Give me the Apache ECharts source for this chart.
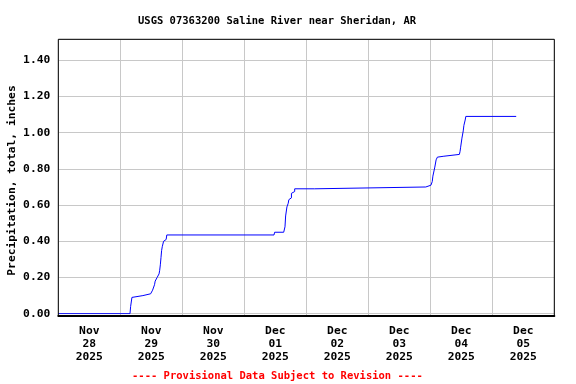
<!DOCTYPE html>
<html>
<head>
<meta charset="utf-8">
<script src="https://cdn.jsdelivr.net/npm/echarts@6/dist/echarts.min.js"></script>
<style>
html,body{margin:0;padding:0;background:#fff;}
#chart{width:576px;height:384px;}
</style>
</head>
<body>
<div id="chart"></div>
<script>
// Cumulative precipitation readings (local time, inches)
const times = [
  '2025-11-28 00:00','2025-11-29 03:45','2025-11-29 04:00','2025-11-29 04:30','2025-11-29 04:45',
  '2025-11-29 08:45','2025-11-29 09:00','2025-11-29 11:45','2025-11-29 12:00','2025-11-29 12:30',
  '2025-11-29 12:45','2025-11-29 13:15','2025-11-29 13:30','2025-11-29 13:45','2025-11-29 14:15',
  '2025-11-29 15:00','2025-11-29 15:15','2025-11-29 15:30','2025-11-29 15:45','2025-11-29 16:00',
  '2025-11-29 16:15','2025-11-29 16:30','2025-11-29 16:45','2025-11-29 17:15','2025-11-29 17:45',
  '2025-11-29 18:00','2025-12-01 11:30','2025-12-01 11:45','2025-12-01 15:15','2025-12-01 15:45',
  '2025-12-01 16:00','2025-12-01 16:30','2025-12-01 17:00','2025-12-01 17:15','2025-12-01 17:45',
  '2025-12-01 18:15','2025-12-01 18:45','2025-12-01 19:30','2025-12-02 03:15','2025-12-02 03:30',
  '2025-12-03 22:15','2025-12-03 22:30','2025-12-04 00:15','2025-12-04 00:45','2025-12-04 01:00',
  '2025-12-04 01:30','2025-12-04 01:45','2025-12-04 02:15','2025-12-04 02:45','2025-12-04 03:30',
  '2025-12-04 05:15','2025-12-04 05:30','2025-12-04 11:15','2025-12-04 11:30','2025-12-04 11:45',
  '2025-12-04 12:15','2025-12-04 12:45','2025-12-04 13:00','2025-12-04 13:30','2025-12-04 13:45',
  '2025-12-05 09:15'
];
const values = [
  0.00,0.00,0.04,0.09,0.10,
  0.10,0.11,0.11,0.12,0.13,
  0.14,0.16,0.18,0.19,0.20,
  0.22,0.24,0.27,0.31,0.35,
  0.37,0.38,0.40,0.41,0.42,
  0.435,0.435,0.45,0.45,0.48,
  0.54,0.59,0.61,0.63,0.64,
  0.665,0.675,0.69,0.69,0.70,
  0.70,0.71,0.71,0.73,0.76,
  0.77,0.81,0.85,0.865,0.87,
  0.87,0.88,0.88,0.895,0.92,
  0.97,1.01,1.04,1.07,1.09,
  1.09
];
const startTime = '2025-11-28 00:00';
const dayLabels = ['Nov\n28\n2025','Nov\n29\n2025','Nov\n30\n2025','Dec\n01\n2025',
                   'Dec\n02\n2025','Dec\n03\n2025','Dec\n04\n2025','Dec\n05\n2025'];
const yTicks = [0.00,0.20,0.40,0.60,0.80,1.00,1.20,1.40];

function parseT(s){
  const [d,t] = s.split(' ');
  const [Y,M,D] = d.split('-').map(Number);
  const [h,m] = t.split(':').map(Number);
  return Date.UTC(Y,M-1,D,h,m);
}
const t0 = parseT(startTime);
const seriesData = times.map((t,i)=>[(parseT(t)-t0)/3600000, values[i]]);

const FONT = 'DejaVu Sans Mono';
const GRID_L = 58.3, GRID_R = 21.7, GRID_T = 39.3;
const chart = echarts.init(document.getElementById('chart'), null, {renderer:'canvas'});
chart.setOption({
  animation:false,
  backgroundColor:'#ffffff',
  title:[
    {text:'USGS 07363200 Saline River near Sheridan, AR', left:138, top:16, padding:0,
     textStyle:{fontFamily:FONT, fontWeight:'bold', fontSize:10.5, color:'#000'}},
    {text:'---- Provisional Data Subject to Revision ----', left:132, top:371, padding:0,
     textStyle:{fontFamily:FONT, fontWeight:'bold', fontSize:10.5, color:'#ff0000'}}
  ],
  grid:[
    // frame grid (full plot box)
    {left:GRID_L, right:GRID_R, top:GRID_T, bottom:68, show:true, borderColor:'#000', borderWidth:1,
     backgroundColor:'transparent', z:5, outerBoundsMode:'none', containLabel:false},
    // data grid (zero line sits slightly above the bottom frame)
    {left:GRID_L, right:GRID_R, top:GRID_T, bottom:70.3, show:false, outerBoundsMode:'none', containLabel:false}
  ],
  xAxis:[
    {gridIndex:0, type:'value', min:0, max:192, interval:24,
     axisLabel:{show:false}, axisTick:{show:false},
     axisLine:{show:true, onZero:false, lineStyle:{color:'#000', width:2}},
     splitLine:{show:true, lineStyle:{color:'#c8c8c8', width:1}}},
    {gridIndex:0, type:'category', data:dayLabels, position:'bottom', boundaryGap:true,
     axisLine:{show:false}, axisTick:{show:false}, splitLine:{show:false},
     axisLabel:{interval:0, fontFamily:FONT, fontWeight:'bold', fontSize:11.3, lineHeight:13, margin:9, color:'#000'}},
    {gridIndex:1, type:'value', min:0, max:192, interval:24, show:false}
  ],
  yAxis:[
    {gridIndex:0, type:'value', min:0, max:1, show:false},
    {gridIndex:1, type:'value', min:0, max:1.516, interval:0.2,
    axisLine:{show:false}, axisTick:{show:false},
    splitLine:{show:true, lineStyle:{color:'#c8c8c8', width:1}},
    axisLabel:{margin:8, fontFamily:FONT, fontWeight:'bold', fontSize:11.3, color:'#000',
      formatter:function(v){
        for (const t of yTicks){ if (Math.abs(v-t)<1e-6) return t.toFixed(2); }
        return '';
      }},
    name:'Precipitation, total, inches', nameLocation:'middle', nameGap:41, nameMoveOverlap:false,
    nameTextStyle:{fontFamily:FONT, fontWeight:'bold', fontSize:11.3, color:'#000', padding:[0,8,0,0]}
    }
  ],
  series:[{type:'line', xAxisIndex:2, yAxisIndex:1, step:'end', data:seriesData, symbol:'none', showSymbol:false,
    lineStyle:{color:'#0000ff', width:1}}]
});
</script>
</body>
</html>
